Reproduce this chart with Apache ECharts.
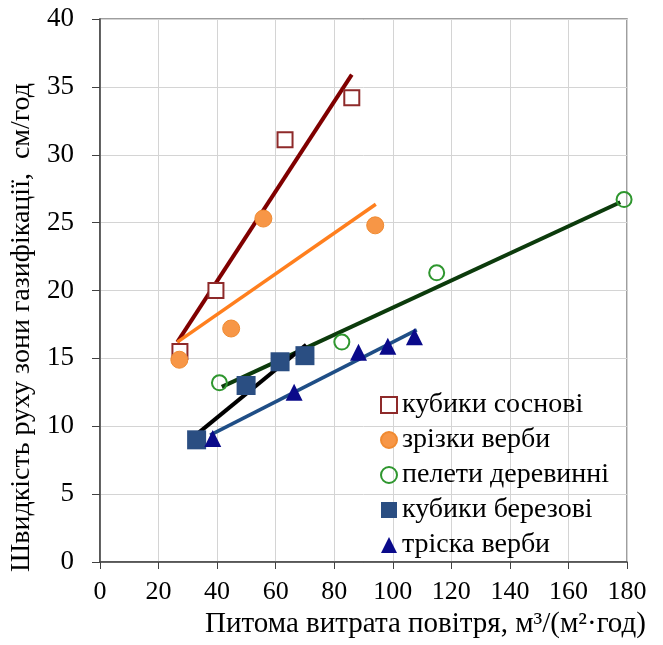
<!DOCTYPE html>
<html>
<head>
<meta charset="utf-8">
<script src="https://cdn.jsdelivr.net/npm/echarts@6/dist/echarts.min.js"></script>
<style>html,body{margin:0;padding:0;background:#fff}#c{width:663px;height:645px}</style>
</head>
<body>
<div id="c"></div>
<script>
// Series names
const seriesNames = ['кубики соснові', 'зрізки верби', 'пелети деревинні', 'кубики березові', 'тріска верби'];

// Measured points [x, y]
const pineCubes = [[27.3, 15.5], [39.6, 20.0], [63.2, 31.1], [86.0, 34.2]];
const willowCuttings = [[27.1, 14.9], [44.8, 17.2], [55.8, 25.3], [94.0, 24.8]];
const woodPellets = [[40.8, 13.2], [82.6, 16.2], [115.0, 21.3], [179.0, 26.7]];
const birchCubes = [[33.0, 9.0], [49.9, 13.0], [61.5, 14.75], [70.0, 15.2]];
const willowChips = [[38.5, 9.1], [66.3, 12.5], [88.3, 15.45], [98.3, 15.9], [107.4, 16.6]];

// Trend line endpoints [x, y]
const pineTrend = [[26.4, 16.2], [86.0, 35.9]];
const willowCuttingsTrend = [[26.4, 16.2], [94.2, 26.35]];
const pelletsTrend = [[41.6, 12.9], [177.7, 26.5]];
const birchTrend = [[33.0, 9.4], [70.4, 16.0]];
const chipsTrend = [[37.6, 9.35], [108.2, 17.1]];

// Axis ticks
const xTicks = [0, 20, 40, 60, 80, 100, 120, 140, 160, 180];
const yTicks = [0, 5, 10, 15, 20, 25, 30, 35, 40];

const serif = '"Liberation Serif", "DejaVu Serif", serif';

function trend(data, color, width) {
  return {
    type: 'line', data: data, symbol: 'none', silent: true, z: 2,
    lineStyle: { color: color, width: width }, legendHoverLink: false
  };
}

const chart = echarts.init(document.getElementById('c'), null, { renderer: 'canvas' });
chart.setOption({
  animation: false,
  backgroundColor: '#fff',
  grid: { left: 100, right: 36, top: 19, bottom: 83, show: true, borderColor: '#7f7f7f', borderWidth: 1.5 },
  legend: {
    orient: 'vertical', left: 375, top: 386, itemGap: 7, itemWidth: 16, itemHeight: 16,
    data: seriesNames,
    textStyle: { fontFamily: serif, fontSize: 28, color: '#000' }
  },
  xAxis: {
    type: 'value', min: xTicks[0], max: xTicks[xTicks.length - 1], interval: 20,
    name: 'Питома витрата повітря, м³/(м²·год)',
    nameLocation: 'middle', nameGap: 47,
    nameTextStyle: { fontFamily: serif, fontSize: 29, color: '#000', padding: [0, 0, 0, 124] },
    axisLine: { lineStyle: { color: '#404040', width: 1.5 } },
    axisTick: { show: true, length: 7, lineStyle: { color: '#404040' } },
    axisLabel: { margin: 17, fontFamily: serif, fontSize: 26, color: '#000' },
    splitLine: { show: true, lineStyle: { color: '#d4d4d4', width: 1 } }
  },
  yAxis: {
    type: 'value', min: yTicks[0], max: yTicks[yTicks.length - 1], interval: 5,
    name: 'Швидкість руху зони газифікації,  см/год',
    nameLocation: 'middle', nameGap: 61, nameRotate: 90,
    nameTextStyle: { fontFamily: serif, fontSize: 28, color: '#000', padding: [0, 74, 0, 0] },
    axisLine: { show: true, lineStyle: { color: '#404040', width: 1.5 } },
    axisTick: { show: true, length: 8, lineStyle: { color: '#404040' } },
    axisLabel: { margin: 26, fontFamily: serif, fontSize: 27, color: '#000' },
    splitLine: { show: true, lineStyle: { color: '#d4d4d4', width: 1 } }
  },
  series: [
    trend(pineTrend, '#800000', 4),
    trend(willowCuttingsTrend, '#ff7f1e', 3.5),
    trend(pelletsTrend, '#0c3b0c', 4),
    trend(birchTrend, '#000000', 4),
    trend(chipsTrend, '#1f4e86', 3.5),
    {
      name: seriesNames[0], type: 'scatter', data: pineCubes, symbol: 'rect', symbolSize: 15, z: 3,
      itemStyle: { color: '#ffffff', borderColor: '#8e2a2a', borderWidth: 2, opacity: 1 }
    },
    {
      name: seriesNames[1], type: 'scatter', data: willowCuttings, symbol: 'circle', symbolSize: 17, z: 3,
      itemStyle: { color: '#f79646', borderColor: '#f08a30', borderWidth: 1, opacity: 1 }
    },
    {
      name: seriesNames[2], type: 'scatter', data: woodPellets, symbol: 'circle', symbolSize: 15, z: 3,
      itemStyle: { color: 'rgba(255,255,255,0)', borderColor: '#2e962e', borderWidth: 2, opacity: 1 }
    },
    {
      name: seriesNames[3], type: 'scatter', data: birchCubes, symbol: 'rect', symbolSize: 19, z: 3,
      itemStyle: { color: '#2a4e82', opacity: 1 }
    },
    {
      name: seriesNames[4], type: 'scatter', data: willowChips, symbol: 'triangle', symbolSize: 17, z: 3,
      itemStyle: { color: '#0a0a8a', opacity: 1 }
    }
  ]
});
</script>
</body>
</html>
